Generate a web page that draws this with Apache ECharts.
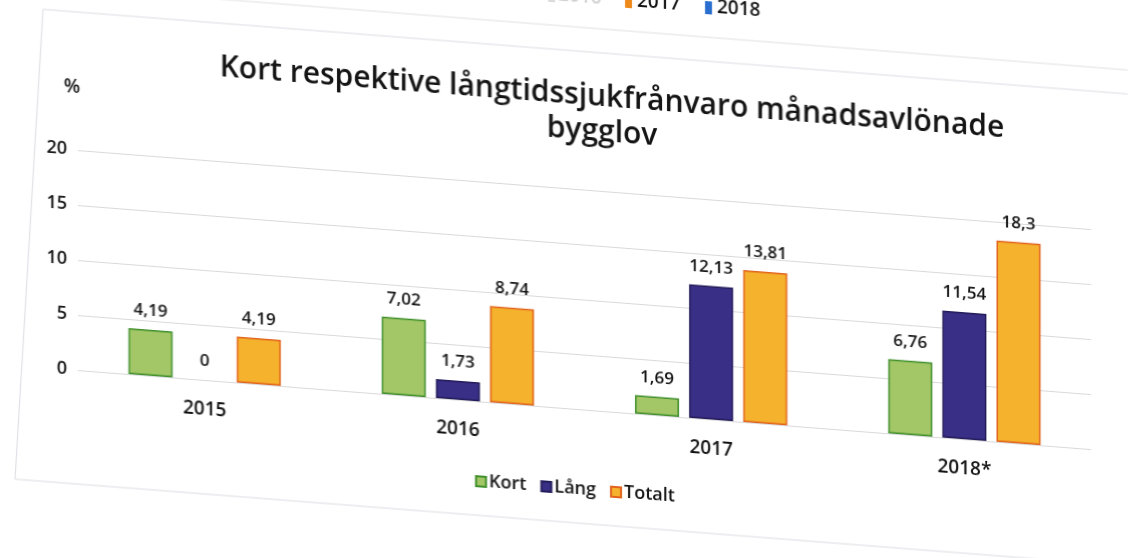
<!DOCTYPE html>
<html lang="sv">
<head>
<meta charset="utf-8">
<title>Kort respektive långtidssjukfrånvaro månadsavlönade bygglov</title>
<script src="https://cdn.jsdelivr.net/npm/echarts@6/dist/echarts.min.js"></script>
<style>
  html, body { margin: 0; padding: 0; background: #ffffff; overflow: hidden; width: 1128px; height: 558px; }
  /* the printed page sits at a slight slant */
  #chart {
    position: absolute; left: 0; top: -60px;
    width: 1128px; height: 620px;
    transform: skewY(4.46deg);
    transform-origin: 0 0;
  }
</style>
</head>
<body>
<div id="chart"></div>
<script>
// Sjukfrånvaro (%) per år
const categories = ['2015', '2016', '2017', '2018*'];
const kort   = [4.19, 7.02, 1.69, 6.76];
const lang   = [0, 1.73, 12.13, 11.54];
const totalt = [4.19, 8.74, 13.81, 18.3];
const seriesNames = ['Kort', 'Lång', 'Totalt'];
const yMin = 0, yMax = 20, yStep = 5;

// legend of the chart printed above this one (only its lower part shows)
const prevLegendLabels = ['2016', '2017', '2018'];

const FONT = '"Open Sans", "Noto Sans", sans-serif';
const TEXT = '#141414';
const W = 600;

const fmt = v => String(v).replace('.', ',');

const barLabel = {
  show: true, position: 'top', distance: 10,
  fontFamily: FONT, fontSize: 17, fontWeight: W, color: TEXT,
  formatter: p => fmt(p.value)
};

// a zero value gets no visible bar outline
const asBarData = arr => arr.map(v => (v === 0 ? { value: v, itemStyle: { borderWidth: 0 } } : v));

const chart = echarts.init(document.getElementById('chart'), null, { renderer: 'canvas' });

chart.setOption({
  backgroundColor: '#ffffff',
  animation: false,
  textStyle: { fontFamily: FONT },
  graphic: [
    // lower border of the chart printed above
    { type: 'line', shape: { x1: 0, y1: 42, x2: 1128, y2: 42 },
      style: { stroke: '#e0e0e0', lineWidth: 1 }, silent: true },
    // chart frame
    { type: 'polyline', shape: { points: [[1140, 66], [43, 66], [15, 538], [1140, 538]] },
      style: { stroke: '#dcdde3', lineWidth: 1, fill: null }, silent: true },
    // previous chart's legend
    { type: 'rect', shape: { x: 548, y: 6, width: 7, height: 13 }, style: { fill: '#dadada' } },
    { type: 'text', x: 558, y: 12, style: { text: prevLegendLabels[0], font: W + ' 19px ' + FONT, fill: '#d2d2d2', verticalAlign: 'middle' } },
    { type: 'rect', shape: { x: 625, y: 6, width: 7, height: 13 }, style: { fill: '#ee8a1c' } },
    { type: 'text', x: 637, y: 12, style: { text: prevLegendLabels[1], font: W + ' 19px ' + FONT, fill: TEXT, verticalAlign: 'middle' } },
    { type: 'rect', shape: { x: 705, y: 6, width: 7, height: 13 }, style: { fill: '#2a6fd0' } },
    { type: 'text', x: 717, y: 12, style: { text: prevLegendLabels[2], font: W + ' 19px ' + FONT, fill: TEXT, verticalAlign: 'middle' } },
    // title
    { type: 'text', x: 612, y: 110, style: { text: 'Kort respektive långtidssjukfrånvaro månadsavlönade',
      font: W + ' 30px ' + FONT, fill: TEXT, align: 'center', verticalAlign: 'middle' } },
    { type: 'text', x: 602, y: 145, style: { text: 'bygglov',
      font: W + ' 30px ' + FONT, fill: TEXT, align: 'center', verticalAlign: 'middle' } }
  ],
  legend: {
    data: seriesNames,
    left: 470, top: 490,
    icon: 'rect', itemWidth: 10, itemHeight: 10, itemGap: 14,
    textStyle: { fontFamily: FONT, fontSize: 18, fontWeight: W, color: TEXT, padding: [0, 0, 0, -2] }
  },
  grid: { left: 78, right: 37, top: 204, height: 220, containLabel: false },
  xAxis: {
    type: 'category',
    data: categories,
    axisLine: { show: false },
    axisTick: { show: false },
    axisLabel: { margin: 20, fontFamily: FONT, fontSize: 19, fontWeight: W, color: TEXT }
  },
  yAxis: {
    type: 'value',
    min: yMin, max: yMax, interval: yStep,
    name: '%', nameLocation: 'end', nameGap: 53,
    nameTextStyle: { fontFamily: FONT, fontSize: 19, fontWeight: W, color: TEXT, align: 'center', padding: [0, 12, 0, 0] },
    axisLine: { show: false },
    axisTick: { show: false },
    axisLabel: { margin: 11, fontFamily: FONT, fontSize: 18, fontWeight: W, color: TEXT },
    splitLine: { lineStyle: { color: '#d9d9d9', width: 1 } }
  },
  series: [
    { name: seriesNames[0], type: 'bar', data: asBarData(kort), barWidth: 44, barGap: '23%',
      itemStyle: { color: '#a3c767', borderColor: '#3f8f2b', borderWidth: 1.5 }, label: barLabel },
    { name: seriesNames[1], type: 'bar', data: asBarData(lang), barWidth: 44, barGap: '23%',
      itemStyle: { color: '#3a2f86', borderColor: '#221c5a', borderWidth: 1.5 }, label: barLabel },
    { name: seriesNames[2], type: 'bar', data: asBarData(totalt), barWidth: 44, barGap: '23%',
      itemStyle: { color: '#f5b22c', borderColor: '#e2631c', borderWidth: 1.5 }, label: barLabel }
  ]
});
</script>
</body>
</html>
